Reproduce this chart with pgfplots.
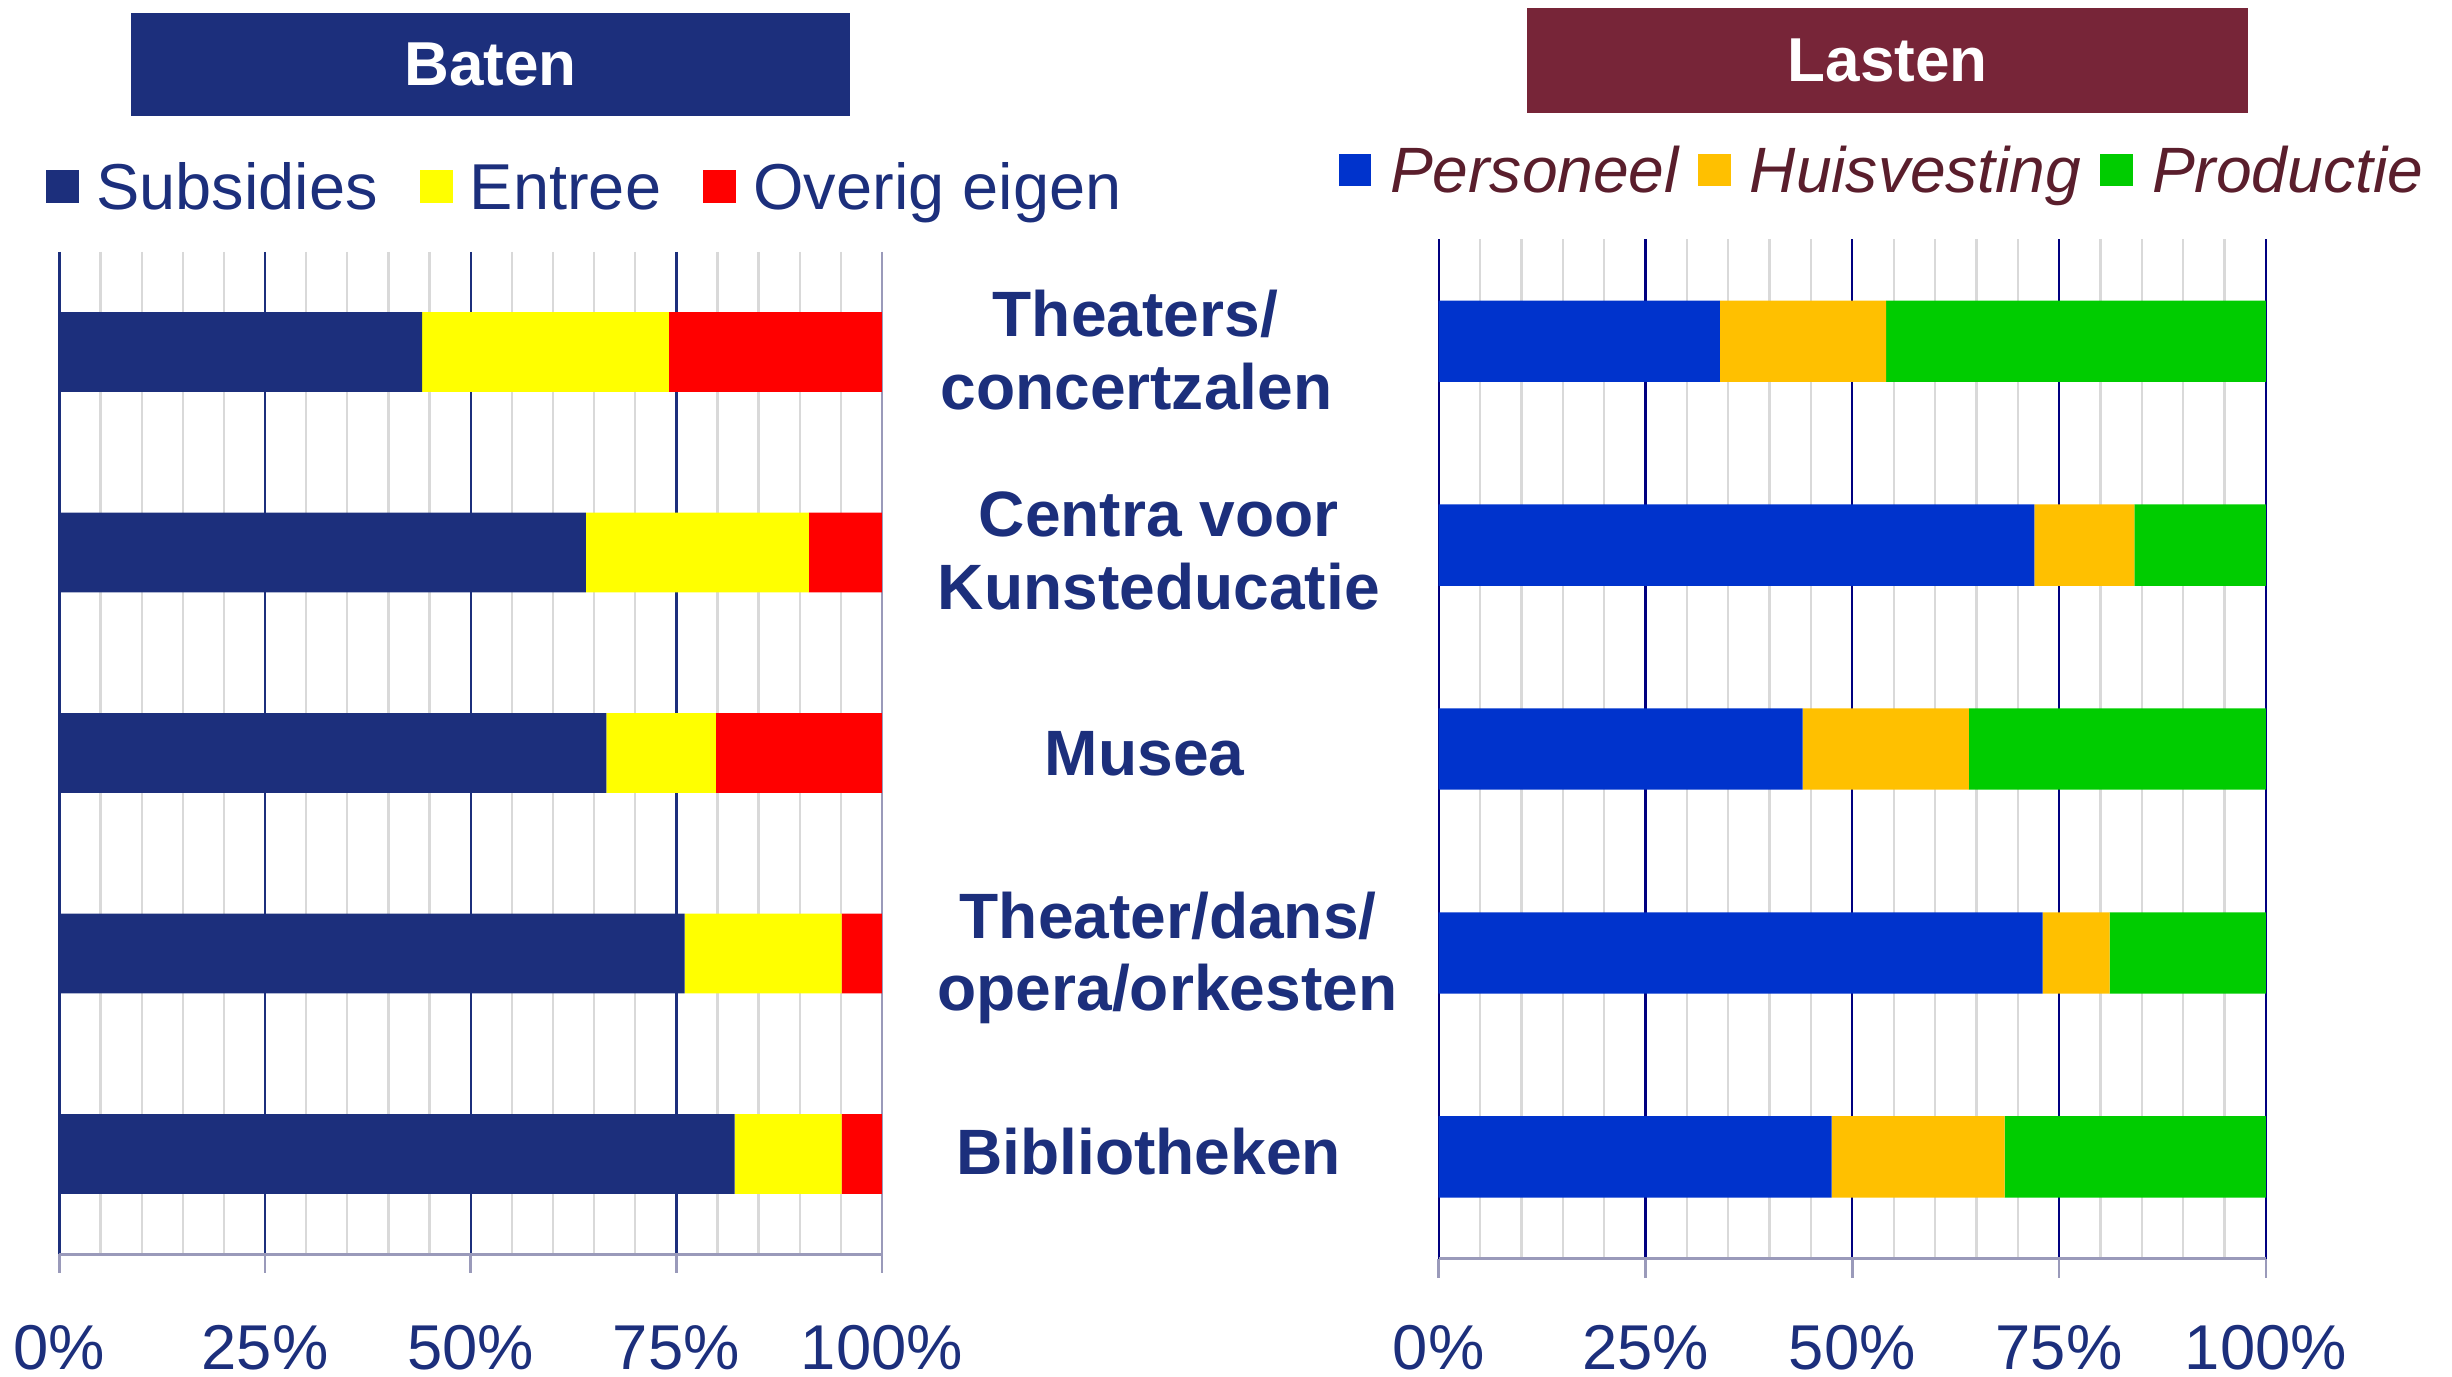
\documentclass[border=0pt]{standalone}
\usepackage{fontspec}
\setmainfont{Liberation Sans}
\usepackage{pgfplots}
\usepackage{pgfplotstable}
\pgfplotsset{compat=1.18}
\definecolor{navyT}{HTML}{1C2F7C}
\definecolor{maroonT}{HTML}{772538}
\definecolor{legR}{HTML}{5A1E2C}
\definecolor{axgray}{HTML}{9A9ABA}
\definecolor{gridgray}{HTML}{D9D9D9}
\definecolor{gridnavy}{HTML}{000080}
\definecolor{cSub}{HTML}{1C2F7C}
\definecolor{cEnt}{HTML}{FFFF00}
\definecolor{cOve}{HTML}{FF0000}
\definecolor{cPer}{HTML}{0033CC}
\definecolor{cHui}{HTML}{FFC000}
\definecolor{cPro}{HTML}{00CC00}

\pgfplotstableread{
cat sub ent ove
1 44.1 30.0 25.9
2 64.0 27.1 8.9
3 66.5 13.3 20.2
4 76.0 19.1 4.9
5 82.1 13.0 4.9
}\baten

\pgfplotstableread{
cat per hui pro
1 34.0 20.1 45.9
2 72.0 12.1 15.9
3 44.0 20.1 35.9
4 73.0 8.1 18.9
5 47.5 20.9 31.6
}\lasten

\pgfplotsset{
  mybase/.style={
    scale only axis, xbar stacked,
    xmin=0, xmax=100, ymin=0.5, ymax=5.5, y dir=reverse,
    axis x line=bottom, axis y line=none,
    x axis line style={-, color=axgray, line width=0.6pt},
    minor xtick={5,10,15,20,30,35,40,45,55,60,65,70,80,85,90,95},
    xminorgrids=true, xmajorgrids=true,
    minor grid style={color=gridgray, line width=0.45pt},
    major tick length=3.6pt, minor tick length=0pt, tick align=outside,
    tick style={color=axgray, line width=0.5pt},
    xticklabel style={font=\fontsize{12.15}{14}\selectfont, text=navyT, anchor=base, inner sep=0pt},
    ytick=\empty,
    legend columns=3,
  }
}

\begin{document}
\begin{tikzpicture}
\path[use as bounding box] (0pt,0pt) rectangle (470.4pt,264pt);

% titles
\node[fill=navyT, minimum width=138pt, minimum height=19.8pt, inner sep=0pt, anchor=south west,
      text=white, font=\bfseries\fontsize{11.9}{14}\selectfont] at (24.9pt,241.5pt) {Baten};
\node[fill=maroonT, minimum width=138.3pt, minimum height=20.1pt, inner sep=0pt, anchor=south west,
      text=white, font=\bfseries\fontsize{11.9}{14}\selectfont] at (292.8pt,242.1pt) {Lasten};

% left chart
\begin{axis}[mybase,
  at={(11.4pt,23.4pt)}, anchor=south west,
  width=157.8pt, height=192.3pt,
  bar width=15.3pt,
  xticklabel style={yshift=-18.6pt},
  xtick={0,25,50,75}, xticklabels={0\%,25\%,50\%,75\%},
  extra x ticks={100}, extra x tick labels={100\%},
  extra x tick style={major grid style={color=axgray, line width=0.5pt}},
  major grid style={color=navyT, line width=0.45pt},
  legend style={draw=none, fill=none, inner sep=0pt, outer sep=0pt,
    at={(-0.016,1.0655)}, anchor=west,
    font=\fontsize{12.45}{14}\selectfont, text=navyT,
    nodes={inner sep=0pt, text height=8.9pt, text depth=0pt},
    /tikz/every even column/.append style={column sep=8.1pt},
    /tikz/every odd column/.append style={column sep=3.3pt}},
  legend image code/.code={\draw[#1, draw=none] (0pt,-3.15pt) rectangle (6.3pt,3.15pt);},
]
\addplot[fill=cSub, draw=none] table[x=sub, y=cat] {\baten};
\addplot[fill=cEnt, draw=none] table[x=ent, y=cat] {\baten};
\addplot[fill=cOve, draw=none] table[x=ove, y=cat] {\baten};
\legend{Subsidies, Entree, Overig eigen}
\end{axis}

% right chart
\begin{axis}[mybase,
  at={(276pt,22.5pt)}, anchor=south west,
  width=158.7pt, height=195.6pt,
  bar width=15.6pt,
  xticklabel style={yshift=-17.6pt},
  xtick={0,25,50,75,100}, xticklabels={0\%,25\%,50\%,75\%,100\%},
  major grid style={color=gridnavy, line width=0.45pt},
  legend style={draw=none, fill=none, inner sep=0pt, outer sep=0pt,
    at={(-0.121,1.068)}, anchor=west,
    font=\itshape\fontsize{12.3}{14}\selectfont, text=legR,
    nodes={inner sep=0pt, text height=8.8pt, text depth=0pt},
    /tikz/every even column/.append style={column sep=3.7pt},
    /tikz/every odd column/.append style={column sep=3.6pt}},
  legend image code/.code={\draw[#1, draw=none] (0pt,-3.15pt) rectangle (6.3pt,3.15pt);},
]
\addplot[fill=cPer, draw=none] table[x=per, y=cat] {\lasten};
\addplot[fill=cHui, draw=none] table[x=hui, y=cat] {\lasten};
\addplot[fill=cPro, draw=none] table[x=pro, y=cat] {\lasten};
\legend{Personeel, Huisvesting, Productie}
\end{axis}

% category labels
\begin{scope}[every node/.style={anchor=base, inner sep=0pt, text=navyT, font=\bfseries\fontsize{12.3}{14}\selectfont}]
\node at (217.8pt,199.5pt) {Theaters/};
\node at (218.0pt,185.4pt) {concertzalen};
\node at (222.3pt,161.1pt) {Centra voor};
\node at (222.3pt,147.0pt) {Kunsteducatie};
\node at (219.6pt,115.3pt) {Musea};
\node at (224.1pt,84.0pt) {Theater/dans/};
\node at (223.95pt,70.2pt) {opera/orkesten};
\node at (220.35pt,38.6pt) {Bibliotheken};
\end{scope}
\end{tikzpicture}
\end{document}
